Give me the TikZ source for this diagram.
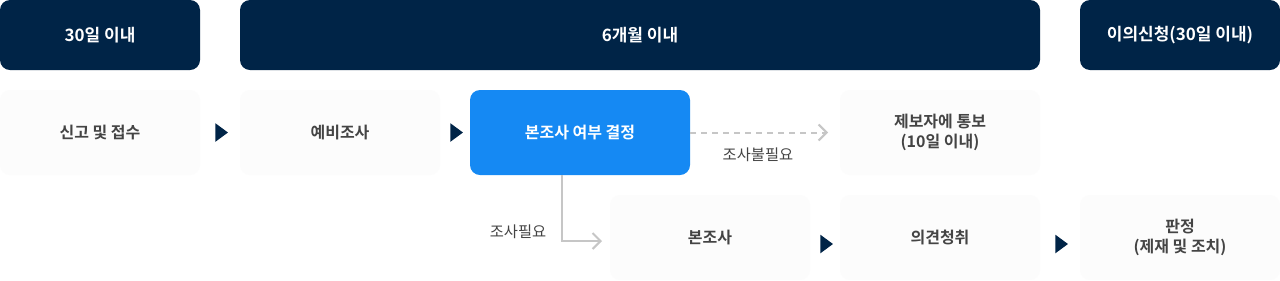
\documentclass[tikz,border=0pt]{standalone}
\usepackage{fontspec}
\setmainfont{Noto Sans CJK KR}[BoldFont={Noto Sans CJK KR Bold}]
\usetikzlibrary{arrows.meta,shapes.geometric}
\definecolor{navy}{HTML}{002447}
\definecolor{blue}{HTML}{1589F3}
\definecolor{cell}{HTML}{FCFCFC}
\definecolor{ink}{HTML}{444444}
\definecolor{line}{HTML}{C6C6C6}
\tikzset{
  head/.style={fill=navy,text=white,rounded corners=7.5pt,minimum width=150pt,minimum height=52.5pt,font=\fontsize{12.75}{15}\selectfont\bfseries,align=center},
  box/.style={fill=cell,text=ink,rounded corners=7.5pt,minimum width=150pt,minimum height=63.75pt,font=\fontsize{12}{15}\selectfont\bfseries,align=center},
  tri/.style={isosceles triangle,isosceles triangle stretches,fill=navy,inner sep=0pt,minimum height=9.5pt,minimum width=14pt},
  link/.style={line,line width=1.5pt},
  lbl/.style={text=ink,font=\fontsize{11.5}{13}\selectfont}
}
\begin{document}
\begin{tikzpicture}[x=0.75pt,y=-0.75pt]
\useasboundingbox[fill=white] (0,0) rectangle (1280,280);
\node[head] (h1) at (100,35) {30일 이내};
\node[head,minimum width=600pt] (h2) at (640,35) {6개월 이내};
\node[head] (h3) at (1180,35) {이의신청(30일 이내)};
\node[box] (n1) at (100,132.5) {신고 및 접수};
\node[box] (n2) at (340,132.5) {예비조사};
\node[box,fill=blue,text=white,minimum width=165pt] (n3) at (580,132.5) {본조사 여부 결정};
\node[box] (n4) at (940,132.5) {제보자에 통보\\(10일 이내)};
\node[box] (n5) at (710,237.5) {본조사};
\node[box] (n6) at (940,237.5) {의견청취};
\node[box] (n7) at (1180,237.5) {판정\\(제재 및 조치)};
\node[tri] (t1) at (220,132.5) {};
\node[tri] (t2) at (455,132.5) {};
\node[tri] (t3) at (825,244) {};
\node[tri] (t4) at (1060,244) {};
\coordinate (e1) at (828,132.5);
\coordinate (e2) at (602,241);
\draw[link,dash pattern=on 4.5pt off 3.75pt,-{Straight Barb[length=6pt,width=12pt,line width=1.5pt]}] (n3.east) -- (e1);
\draw[link,-{Straight Barb[length=6pt,width=12pt,line width=1.5pt]}] ([xshift=-13.5pt]n3.south) |- (e2);
\node[lbl] (l1) at (758,155) {조사불필요};
\node[lbl] (l2) at (518,232) {조사필요};
\end{tikzpicture}
\end{document}
